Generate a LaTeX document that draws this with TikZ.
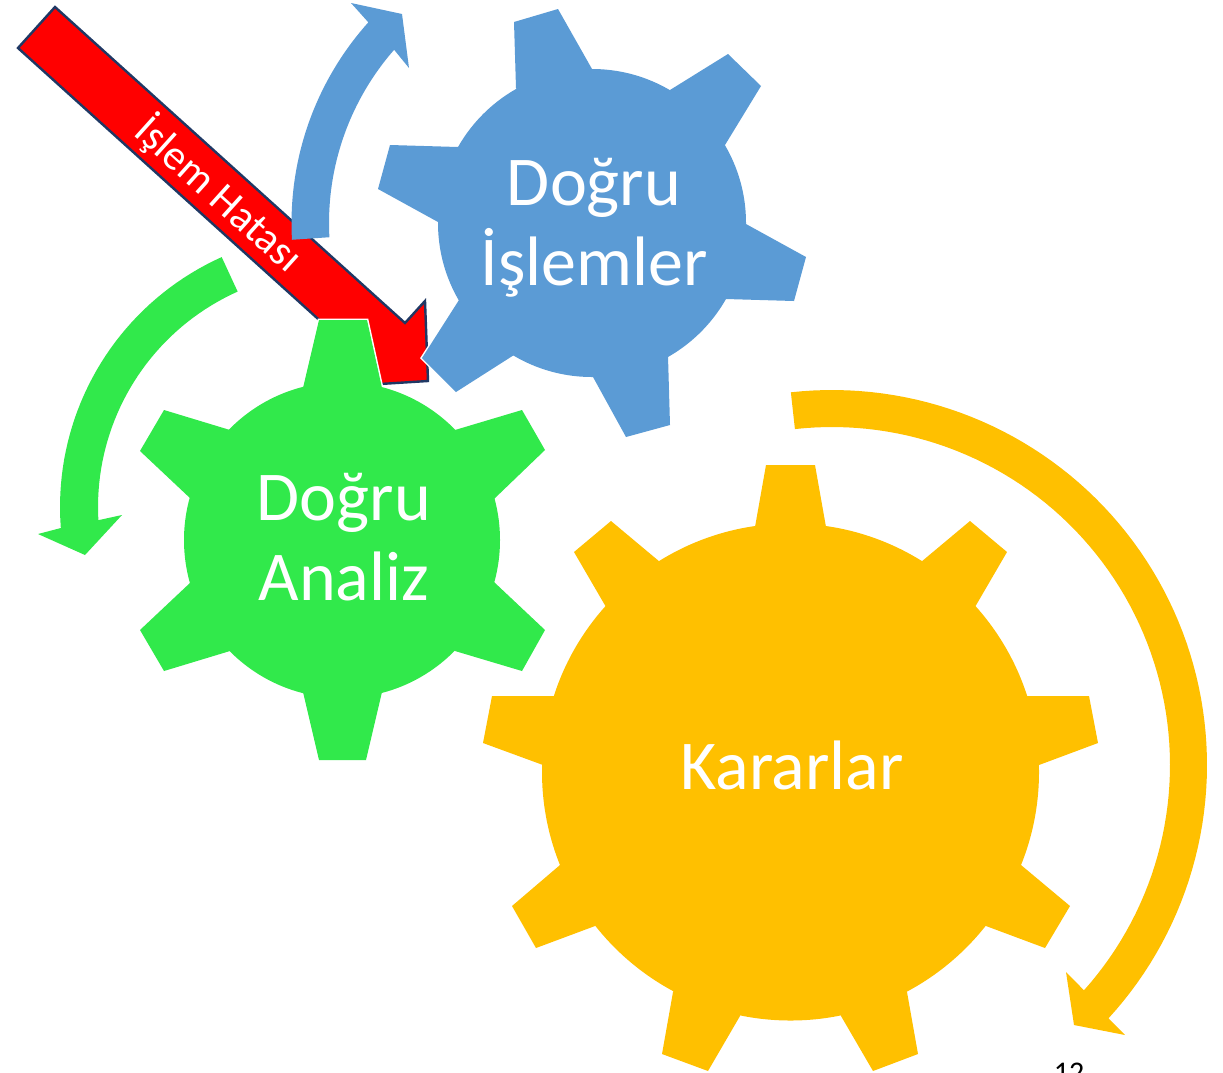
\documentclass[tikz,border=0pt]{standalone}
\usepackage{fontspec}
\setmainfont{Carlito}
\definecolor{gearblue}{HTML}{5B9BD5}
\definecolor{geargreen}{HTML}{31E94B}
\definecolor{gearorange}{HTML}{FFC000}
\definecolor{arrownavy}{HTML}{1F3864}
\newcommand{\tooth}[4]{\path[gp] #1 -- #2 -- #3 -- #4 -- (gearc) -- cycle;}
\newcommand{\bluegear}{%
  \coordinate (gearc) at (592,223);
  \path[gp] (gearc) circle[radius=154pt];
  \tooth{(516,88)}{(514,22)}{(558,9)}{(592,69)}
  \tooth{(670,90)}{(728,54)}{(761,86)}{(725,145)}
  \tooth{(746,224)}{(806,257)}{(794,301)}{(726,299)}
  \tooth{(668,356)}{(670,425)}{(626,437)}{(593,377)}
  \tooth{(514,355)}{(456,392)}{(422,358)}{(459,300)}
  \tooth{(438,222)}{(378,189)}{(390,145)}{(458,147)}}
\newcommand{\greengear}{%
  \coordinate (gearc) at (342,540);
  \path[gp] (gearc) circle[radius=158pt];
  \tooth{(303,388)}{(319,320)}{(367,320)}{(382,388)}
  \tooth{(455,430)}{(522,410)}{(545,450)}{(494,499)}
  \tooth{(494,582)}{(545,630)}{(522,671)}{(455,651)}
  \tooth{(382,692)}{(366,760)}{(319,760)}{(303,692)}
  \tooth{(230,651)}{(164,671)}{(140,630)}{(191,582)}
  \tooth{(191,499)}{(140,451)}{(164,410)}{(230,430)}}
\newcommand{\orangegear}{%
  \coordinate (gearc) at (790.5,772);
  \path[gp] (gearc) circle[radius=248.5pt];
  \tooth{(755,527)}{(766,465)}{(815,465)}{(826,527)}
  \tooth{(921,562)}{(970,521)}{(1007,552)}{(975,607)}
  \tooth{(1027,696)}{(1089,696)}{(1098,743)}{(1039,765)}
  \tooth{(1021,865)}{(1070,906)}{(1045,948)}{(986,926)}
  \tooth{(907,992)}{(918,1054)}{(873,1071)}{(841,1016)}
  \tooth{(740,1016)}{(708,1071)}{(662,1054)}{(673,992)}
  \tooth{(595,926)}{(536,948)}{(512,906)}{(560,865)}
  \tooth{(543,765)}{(483,743)}{(492,696)}{(554,696)}
  \tooth{(606,607)}{(574,552)}{(611,521)}{(660,562)}}
\tikzset{
  geartext/.style={text=white,align=center,font=\fontsize{70}{80}\selectfont,inner sep=0pt},
  redarrow/.style={fill=red,draw=arrownavy,line width=2.4pt,miter limit=10},
  edgepass/.style={gp/.style={draw=white,line width=3pt}}
}
\begin{document}
\begin{tikzpicture}[x=1pt,y=-1pt]
\clip (0,0) rectangle (1223,1072);
\fill[white] (0,0) rectangle (1223,1072);
% red arrow
\draw[redarrow] (18,48) -- (55,7) -- (405,323) -- (425,301) -- (428,381) -- (348,386) -- (368,364) -- cycle;
\node[text=white,font=\fontsize{42.5}{44}\selectfont,rotate=-42,inner sep=0pt] (err) at (219,194) {İşlem Hatası};
% circular arrows
\fill[gearblue] plot[domain=176.8:221.9,samples=40] ({592+300.5*cos(\x)},{223+300.5*sin(\x)})
  -- (351,3) -- (402,14) -- (409,68)
  -- plot[domain=221.2:176.9,samples=40] ({592+263*cos(\x)},{223+263*sin(\x)}) -- cycle;
\fill[geargreen] plot[domain=245.8:175.6,samples=40] ({334+274*cos(\x)},{507+274*sin(\x)})
  -- (38,534) -- (85,555) -- (122,515)
  -- plot[domain=176.8:245.9,samples=40] ({334+236*cos(\x)},{507+236*sin(\x)}) -- cycle;
\fill[gearorange] plot[domain=-96.3:42.5,samples=80] ({832+375*cos(\x)},{765+375*sin(\x)})
  -- (1125,1035) -- (1074,1025) -- (1066,972)
  -- plot[domain=41.8:-96.3,samples=80] ({832+338*cos(\x)},{765+338*sin(\x)}) -- cycle;
% gears
\begin{scope}[edgepass]\bluegear\greengear\orangegear\end{scope}
\begin{scope}[gp/.style={fill=gearblue}]\bluegear\end{scope}
\begin{scope}[gp/.style={fill=geargreen}]\greengear\end{scope}
\begin{scope}[gp/.style={fill=gearorange}]\orangegear\end{scope}
% labels
\node[geartext,anchor=base] (dogru1) at (594,285) {Doğru\\İşlemler};
\node[geartext,anchor=base] (dogru2) at (344,600) {Doğru\\Analiz};
\node[geartext,anchor=base] (karar) at (792,789) {Kararlar};
\node[text=black,anchor=base,inner sep=0pt,font=\fontsize{30}{32}\selectfont] (page) at (1069,1082) {12};
\end{tikzpicture}
\end{document}
